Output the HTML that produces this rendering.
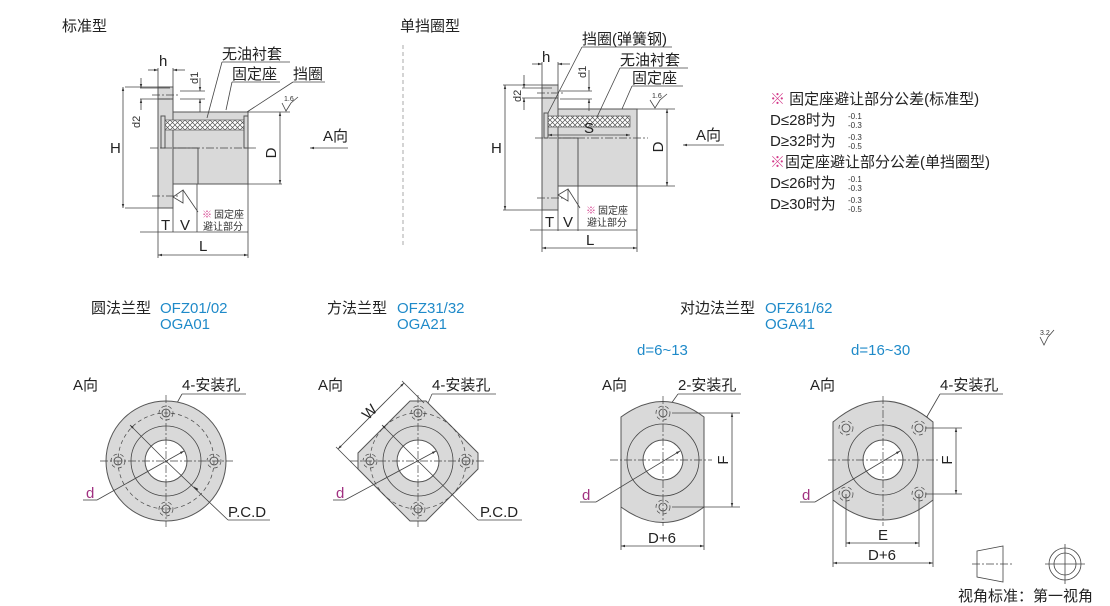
<!DOCTYPE html>
<html><head><meta charset="utf-8"><style>
html,body{margin:0;padding:0;background:#fff;}
svg{display:block;font-family:"Liberation Sans","Noto Sans CJK SC",sans-serif;}
.t{font-size:15px;fill:#222;}
.s{font-size:11px;fill:#333;}
.b{font-size:15px;fill:#1f8ac9;}
.o{stroke:#555;stroke-width:1;fill:#d9d9d9;}
.l{stroke:#444;stroke-width:0.8;fill:none;}
.c{stroke:#444;stroke-width:0.7;fill:none;stroke-dasharray:8 2 2 2;}
.d{stroke:#444;stroke-width:0.7;fill:none;stroke-dasharray:4 3;}
</style></head><body>
<svg width="1110" height="606" viewBox="0 0 1110 606" xmlns="http://www.w3.org/2000/svg">
<defs>
<marker id="a" viewBox="0 0 10 10" refX="10" refY="5" markerWidth="7" markerHeight="5" orient="auto-start-reverse"><path d="M0,2 L10,5 L0,8z" fill="#333"/></marker>
<pattern id="x" width="5" height="5" patternUnits="userSpaceOnUse"><rect width="5" height="5" fill="#fff"/><path d="M0,0L5,5M5,0L0,5" stroke="#555" stroke-width="0.7"/></pattern>
</defs>

<text class="t" x="62" y="31">标准型</text>
<text class="t" x="400" y="31">单挡圈型</text>
<line x1="403" y1="45" x2="403" y2="245" stroke="#aaa" stroke-dasharray="4 3"/>

<!-- standard side view -->
<rect class="o" x="158" y="87" width="15" height="121"/>
<rect class="o" x="173" y="112" width="75" height="72"/>
<rect class="o" x="173" y="148" width="25" height="36" fill="#e6e6e6"/>
<rect x="165" y="120" width="80" height="10" fill="url(#x)" stroke="#555" stroke-width="0.7"/>
<rect class="o" x="161" y="116" width="4" height="32"/>
<rect class="o" x="244" y="116" width="4" height="32"/>
<rect class="o" x="158" y="87" width="15" height="12"/>
<line class="c" x1="150" y1="148" x2="258" y2="148"/>
<line class="c" x1="152" y1="95" x2="180" y2="95"/>
<line class="c" x1="152" y1="196" x2="180" y2="196"/>
<line class="l" x1="125" y1="87" x2="158" y2="87"/><line class="l" x1="125" y1="208" x2="158" y2="208"/>
<line class="l" x1="123" y1="87" x2="123" y2="208" marker-start="url(#a)" marker-end="url(#a)"/>
<text class="t" x="110" y="153">H</text>
<line class="l" x1="140" y1="88" x2="170" y2="88"/><line class="l" x1="140" y1="99" x2="170" y2="99"/>
<line class="l" x1="141" y1="78" x2="141" y2="88" marker-end="url(#a)"/><line class="l" x1="141" y1="110" x2="141" y2="99" marker-end="url(#a)"/>
<text class="s" x="140" y="128" transform="rotate(-90 140 128)">d2</text>
<line class="l" x1="158" y1="68" x2="158" y2="87"/><line class="l" x1="173" y1="68" x2="173" y2="87"/>
<line class="l" x1="148" y1="70" x2="158" y2="70" marker-end="url(#a)"/><line class="l" x1="185" y1="70" x2="173" y2="70" marker-end="url(#a)"/>
<text class="t" x="159" y="66">h</text>
<line class="l" x1="180" y1="91" x2="205" y2="91"/><line class="l" x1="180" y1="99" x2="205" y2="99"/>
<line class="l" x1="200" y1="78" x2="200" y2="91" marker-end="url(#a)"/><line class="l" x1="200" y1="112" x2="200" y2="99" marker-end="url(#a)"/>
<text class="s" x="198" y="84" transform="rotate(-90 198 84)">d1</text>
<line class="l" x1="248" y1="112" x2="290" y2="112"/><line class="l" x1="248" y1="184" x2="282" y2="184"/>
<line class="l" x1="280" y1="112" x2="280" y2="184" marker-start="url(#a)" marker-end="url(#a)"/>
<text class="t" x="276" y="153" transform="rotate(-90 276 153)" text-anchor="middle">D</text>
<path class="l" d="M282,103 L286,111 L291,103 L298,97"/><text x="284" y="101" font-size="7" fill="#333">1.6</text>
<line class="l" x1="348" y1="148" x2="310" y2="148" marker-end="url(#a)"/><text class="t" x="323" y="141">A向</text>
<line class="l" x1="158" y1="208" x2="158" y2="258"/><line class="l" x1="248" y1="184" x2="248" y2="258"/>
<line class="l" x1="173" y1="208" x2="173" y2="232"/><line class="l" x1="197" y1="184" x2="197" y2="232"/>
<line class="l" x1="140" y1="232" x2="248" y2="232"/>
<text class="t" x="161" y="230">T</text><text class="t" x="180" y="230">V</text>
<line class="l" x1="158" y1="255" x2="248" y2="255" marker-start="url(#a)" marker-end="url(#a)"/>
<text class="t" x="199" y="251">L</text>
<text x="202" y="218" font-size="10" fill="#d33a8a">※</text><text x="214" y="218" font-size="10" fill="#333">固定座</text>
<text x="203" y="230" font-size="10" fill="#333">避让部分</text>
<path class="l" d="M173,197 L183,190 L183,203 Z M183,190 L198,212"/>
<text class="t" x="222" y="59">无油衬套</text><line class="l" x1="222" y1="62" x2="290" y2="62"/><line class="l" x1="222" y1="62" x2="207" y2="118"/>
<text class="t" x="232" y="79">固定座</text><line class="l" x1="232" y1="82" x2="280" y2="82"/><line class="l" x1="232" y1="82" x2="226" y2="110"/>
<text class="t" x="293" y="79">挡圈</text><line class="l" x1="293" y1="82" x2="325" y2="82"/><line class="l" x1="293" y1="82" x2="247" y2="112"/>

<!-- single side view -->
<rect class="o" x="542" y="85" width="16" height="125"/>
<rect class="o" x="558" y="109" width="79" height="77"/>
<rect class="o" x="558" y="138" width="20" height="48" fill="#e6e6e6"/>
<rect x="547" y="116" width="83" height="11" fill="url(#x)" stroke="#555" stroke-width="0.7"/>
<rect class="o" x="544" y="113" width="4" height="25"/>
<rect class="o" x="542" y="85" width="16" height="13"/>
<line class="c" x1="535" y1="138" x2="648" y2="138"/>
<line class="c" x1="537" y1="93" x2="565" y2="93"/><line class="c" x1="537" y1="198" x2="565" y2="198"/>
<line class="l" x1="503" y1="85" x2="542" y2="85"/><line class="l" x1="503" y1="210" x2="542" y2="210"/>
<line class="l" x1="505" y1="85" x2="505" y2="210" marker-start="url(#a)" marker-end="url(#a)"/>
<text class="t" x="491" y="153">H</text>
<line class="l" x1="522" y1="88" x2="552" y2="88"/><line class="l" x1="522" y1="98" x2="552" y2="98"/>
<line class="l" x1="524" y1="75" x2="524" y2="88" marker-end="url(#a)"/><line class="l" x1="524" y1="110" x2="524" y2="98" marker-end="url(#a)"/>
<text class="s" x="521" y="102" transform="rotate(-90 521 102)">d2</text>
<line class="l" x1="542" y1="62" x2="542" y2="85"/><line class="l" x1="558" y1="62" x2="558" y2="85"/>
<line class="l" x1="532" y1="64" x2="542" y2="64" marker-end="url(#a)"/><line class="l" x1="570" y1="64" x2="558" y2="64" marker-end="url(#a)"/>
<text class="t" x="542" y="62">h</text>
<line class="l" x1="560" y1="91" x2="592" y2="91"/><line class="l" x1="560" y1="99" x2="592" y2="99"/>
<line class="l" x1="589" y1="70" x2="589" y2="91" marker-end="url(#a)"/><line class="l" x1="589" y1="111" x2="589" y2="99" marker-end="url(#a)"/>
<text class="s" x="586" y="78" transform="rotate(-90 586 78)">d1</text>
<line class="l" x1="548" y1="135" x2="630" y2="135" marker-start="url(#a)" marker-end="url(#a)"/>
<text class="t" x="584" y="133">S</text>
<line class="l" x1="637" y1="109" x2="675" y2="109"/><line class="l" x1="637" y1="186" x2="675" y2="186"/>
<line class="l" x1="667" y1="109" x2="667" y2="186" marker-start="url(#a)" marker-end="url(#a)"/>
<text class="t" x="663" y="147" transform="rotate(-90 663 147)" text-anchor="middle">D</text>
<path class="l" d="M650,100 L655,108 L660,100 L667,94"/><text x="652" y="98" font-size="7" fill="#333">1.6</text>
<line class="l" x1="724" y1="145" x2="683" y2="145" marker-end="url(#a)"/><text class="t" x="696" y="140">A向</text>
<line class="l" x1="542" y1="210" x2="542" y2="252"/><line class="l" x1="637" y1="186" x2="637" y2="252"/>
<line class="l" x1="558" y1="210" x2="558" y2="231"/><line class="l" x1="578" y1="186" x2="578" y2="231"/>
<line class="l" x1="530" y1="230" x2="637" y2="230"/>
<text class="t" x="545" y="227">T</text><text class="t" x="563" y="227">V</text>
<line class="l" x1="542" y1="248" x2="637" y2="248" marker-start="url(#a)" marker-end="url(#a)"/>
<text class="t" x="586" y="245">L</text>
<text x="586" y="214" font-size="10" fill="#d33a8a">※</text><text x="598" y="214" font-size="10" fill="#333">固定座</text>
<text x="587" y="226" font-size="10" fill="#333">避让部分</text>
<path class="l" d="M558,195 L568,189 L568,201 Z M568,189 L580,208"/>
<text class="t" x="582" y="44">挡圈(弹簧钢)</text><line class="l" x1="582" y1="47" x2="672" y2="47"/><line class="l" x1="582" y1="47" x2="548" y2="113"/>
<text class="t" x="620" y="65">无油衬套</text><line class="l" x1="620" y1="68" x2="688" y2="68"/><line class="l" x1="620" y1="68" x2="597" y2="117"/>
<text class="t" x="632" y="83">固定座</text><line class="l" x1="632" y1="86" x2="683" y2="86"/><line class="l" x1="632" y1="86" x2="622" y2="109"/>

<!-- notes -->
<text class="t" x="770" y="104"><tspan fill="#d33a8a">※</tspan> 固定座避让部分公差(标准型)</text>
<text class="t" x="770" y="125">D≤28时为</text><text x="848" y="119" font-size="8" fill="#333">-0.1</text><text x="848" y="128" font-size="8" fill="#333">-0.3</text>
<text class="t" x="770" y="146">D≥32时为</text><text x="848" y="140" font-size="8" fill="#333">-0.3</text><text x="848" y="149" font-size="8" fill="#333">-0.5</text>
<text class="t" x="770" y="167"><tspan fill="#d33a8a">※</tspan>固定座避让部分公差(单挡圈型)</text>
<text class="t" x="770" y="188">D≤26时为</text><text x="848" y="182" font-size="8" fill="#333">-0.1</text><text x="848" y="191" font-size="8" fill="#333">-0.3</text>
<text class="t" x="770" y="209">D≥30时为</text><text x="848" y="203" font-size="8" fill="#333">-0.3</text><text x="848" y="212" font-size="8" fill="#333">-0.5</text>

<!-- flange titles -->
<text class="t" x="91" y="313">圆法兰型</text><text class="b" x="160" y="313">OFZ01/02</text><text class="b" x="160" y="329">OGA01</text>
<text class="t" x="327" y="313">方法兰型</text><text class="b" x="397" y="313">OFZ31/32</text><text class="b" x="397" y="329">OGA21</text>
<text class="t" x="680" y="313">对边法兰型</text><text class="b" x="765" y="313">OFZ61/62</text><text class="b" x="765" y="329">OGA41</text>
<text class="b" x="637" y="355">d=6~13</text><text class="b" x="851" y="355">d=16~30</text>
<path class="l" d="M1040,337 L1044,345 L1048,337 L1054,330"/><text x="1040" y="335" font-size="7" fill="#333">3.2</text>

<!-- round flange -->
<text class="t" x="73" y="390">A向</text>
<text class="t" x="182" y="390">4-安装孔</text><line class="l" x1="182" y1="394" x2="246" y2="394"/><line class="l" x1="182" y1="394" x2="173" y2="410" marker-end="url(#a)"/>
<circle class="o" cx="166" cy="461" r="60"/>
<circle class="d" cx="166" cy="461" r="48"/>
<circle class="l" cx="166" cy="461" r="35"/>
<circle cx="166" cy="461" r="21" fill="#fff" stroke="#555"/>
<g class="l"><circle cx="166" cy="413" r="4"/><circle cx="166" cy="509" r="4"/><circle cx="118" cy="461" r="4"/><circle cx="214" cy="461" r="4"/></g>
<g class="d"><circle cx="166" cy="413" r="7"/><circle cx="166" cy="509" r="7"/><circle cx="118" cy="461" r="7"/><circle cx="214" cy="461" r="7"/></g>
<line class="c" x1="100" y1="461" x2="233" y2="461"/><line class="c" x1="166" y1="395" x2="166" y2="527"/>
<line class="l" x1="130" y1="425" x2="166" y2="461" marker-start="url(#a)"/>
<line class="l" x1="166" y1="461" x2="228" y2="520"/><line class="l" x1="228" y1="520" x2="270" y2="520"/><line class="l" x1="198" y1="490" x2="194" y2="487" marker-end="url(#a)"/>
<text class="t" x="228" y="517">P.C.D</text>
<line class="l" x1="97" y1="500" x2="184" y2="451" marker-end="url(#a)"/><line class="l" x1="83" y1="500" x2="97" y2="500" stroke="#a03080"/>
<text x="86" y="498" font-size="15" fill="#a03080">d</text>

<!-- square flange -->
<text class="t" x="318" y="390">A向</text>
<text class="t" x="432" y="390">4-安装孔</text><line class="l" x1="432" y1="394" x2="496" y2="394"/><line class="l" x1="432" y1="394" x2="425" y2="410" marker-end="url(#a)"/>
<polygon class="o" points="410,401 426,401 478,453 478,469 426,521 410,521 358,469 358,453"/>
<circle class="d" cx="418" cy="461" r="48"/>
<circle class="l" cx="418" cy="461" r="35"/>
<circle cx="418" cy="461" r="21" fill="#fff" stroke="#555"/>
<g class="l"><circle cx="418" cy="413" r="4"/><circle cx="418" cy="509" r="4"/><circle cx="370" cy="461" r="4"/><circle cx="466" cy="461" r="4"/></g>
<g class="d"><circle cx="418" cy="413" r="7"/><circle cx="418" cy="509" r="7"/><circle cx="370" cy="461" r="7"/><circle cx="466" cy="461" r="7"/></g>
<line class="c" x1="350" y1="461" x2="486" y2="461"/><line class="c" x1="418" y1="395" x2="418" y2="527"/>
<line class="l" x1="402" y1="381" x2="424" y2="403"/><line class="l" x1="336" y1="447" x2="358" y2="469"/>
<line class="l" x1="404" y1="383" x2="338" y2="449" marker-start="url(#a)" marker-end="url(#a)"/>
<text class="t" x="362" y="418" transform="rotate(-45 368 412)">W</text>
<line class="l" x1="382" y1="425" x2="418" y2="461" marker-start="url(#a)"/>
<line class="l" x1="418" y1="461" x2="478" y2="520"/><line class="l" x1="478" y1="520" x2="522" y2="520"/>
<text class="t" x="480" y="517">P.C.D</text>
<line class="l" x1="345" y1="500" x2="436" y2="451" marker-end="url(#a)"/><line class="l" x1="333" y1="500" x2="345" y2="500" stroke="#a03080"/>
<text x="336" y="498" font-size="15" fill="#a03080">d</text>

<!-- oval 2-hole -->
<text class="t" x="602" y="390">A向</text>
<text class="t" x="678" y="390">2-安装孔</text><line class="l" x1="678" y1="394" x2="741" y2="394"/><line class="l" x1="678" y1="394" x2="668" y2="408" marker-end="url(#a)"/>
<path class="o" d="M621,417 Q663,386 704,417 L704,507 Q663,538 621,507 Z"/>
<circle class="l" cx="663" cy="460" r="36"/>
<circle cx="663" cy="460" r="20" fill="#fff" stroke="#555"/>
<circle class="l" cx="663" cy="413" r="4"/><circle class="d" cx="663" cy="413" r="7"/>
<circle class="l" cx="663" cy="507" r="4"/><circle class="d" cx="663" cy="507" r="7"/>
<line class="c" x1="610" y1="460" x2="712" y2="460"/><line class="c" x1="663" y1="396" x2="663" y2="526"/>
<line class="l" x1="672" y1="413" x2="740" y2="413"/><line class="l" x1="672" y1="507" x2="740" y2="507"/>
<line class="l" x1="732" y1="413" x2="732" y2="507" marker-start="url(#a)" marker-end="url(#a)"/>
<text class="t" x="728" y="460" transform="rotate(-90 728 460)" text-anchor="middle">F</text>
<line class="l" x1="621" y1="507" x2="621" y2="550"/><line class="l" x1="704" y1="507" x2="704" y2="550"/>
<line class="l" x1="621" y1="546" x2="704" y2="546" marker-start="url(#a)" marker-end="url(#a)"/>
<text class="t" x="648" y="543">D+6</text>
<line class="l" x1="596" y1="502" x2="680" y2="451" marker-end="url(#a)"/><line class="l" x1="580" y1="502" x2="596" y2="502" stroke="#a03080"/>
<text x="582" y="500" font-size="15" fill="#a03080">d</text>

<!-- oval 4-hole -->
<text class="t" x="810" y="390">A向</text>
<text class="t" x="940" y="390">4-安装孔</text><line class="l" x1="940" y1="394" x2="1003" y2="394"/><line class="l" x1="940" y1="394" x2="925" y2="420" marker-end="url(#a)"/>
<path class="o" d="M833,422 Q883,380 933,422 L933,500 Q883,540 833,500 Z"/>
<circle class="l" cx="883" cy="460" r="35"/>
<circle cx="883" cy="460" r="20" fill="#fff" stroke="#555"/>
<g class="l"><circle cx="846" cy="428" r="4"/><circle cx="919" cy="428" r="4"/><circle cx="846" cy="494" r="4"/><circle cx="919" cy="494" r="4"/></g>
<g class="d"><circle cx="846" cy="428" r="7"/><circle cx="919" cy="428" r="7"/><circle cx="846" cy="494" r="7"/><circle cx="919" cy="494" r="7"/></g>
<line class="c" x1="828" y1="460" x2="938" y2="460"/><line class="c" x1="883" y1="396" x2="883" y2="526"/>
<line class="l" x1="925" y1="428" x2="962" y2="428"/><line class="l" x1="925" y1="494" x2="962" y2="494"/>
<line class="l" x1="956" y1="428" x2="956" y2="494" marker-start="url(#a)" marker-end="url(#a)"/>
<text class="t" x="952" y="460" transform="rotate(-90 952 460)" text-anchor="middle">F</text>
<line class="l" x1="846" y1="494" x2="846" y2="547"/><line class="l" x1="919" y1="494" x2="919" y2="547"/>
<line class="l" x1="846" y1="543" x2="919" y2="543" marker-start="url(#a)" marker-end="url(#a)"/>
<text class="t" x="878" y="540">E</text>
<line class="l" x1="833" y1="500" x2="833" y2="567"/><line class="l" x1="933" y1="500" x2="933" y2="567"/>
<line class="l" x1="833" y1="563" x2="933" y2="563" marker-start="url(#a)" marker-end="url(#a)"/>
<text class="t" x="868" y="560">D+6</text>
<line class="l" x1="815" y1="502" x2="900" y2="451" marker-end="url(#a)"/><line class="l" x1="800" y1="502" x2="815" y2="502" stroke="#a03080"/>
<text x="802" y="500" font-size="15" fill="#a03080">d</text>

<!-- view angle -->
<path class="l" d="M977,551 L1003,546 L1003,582 L977,577 Z"/><line class="c" x1="972" y1="564" x2="1014" y2="564"/>
<circle class="l" cx="1065" cy="564" r="16"/><circle class="l" cx="1065" cy="564" r="11"/>
<line class="l" x1="1045" y1="564" x2="1085" y2="564"/><line class="l" x1="1065" y1="544" x2="1065" y2="584"/>
<text class="t" x="958" y="601">视角标准：第一视角</text>
</svg>
</body></html>
